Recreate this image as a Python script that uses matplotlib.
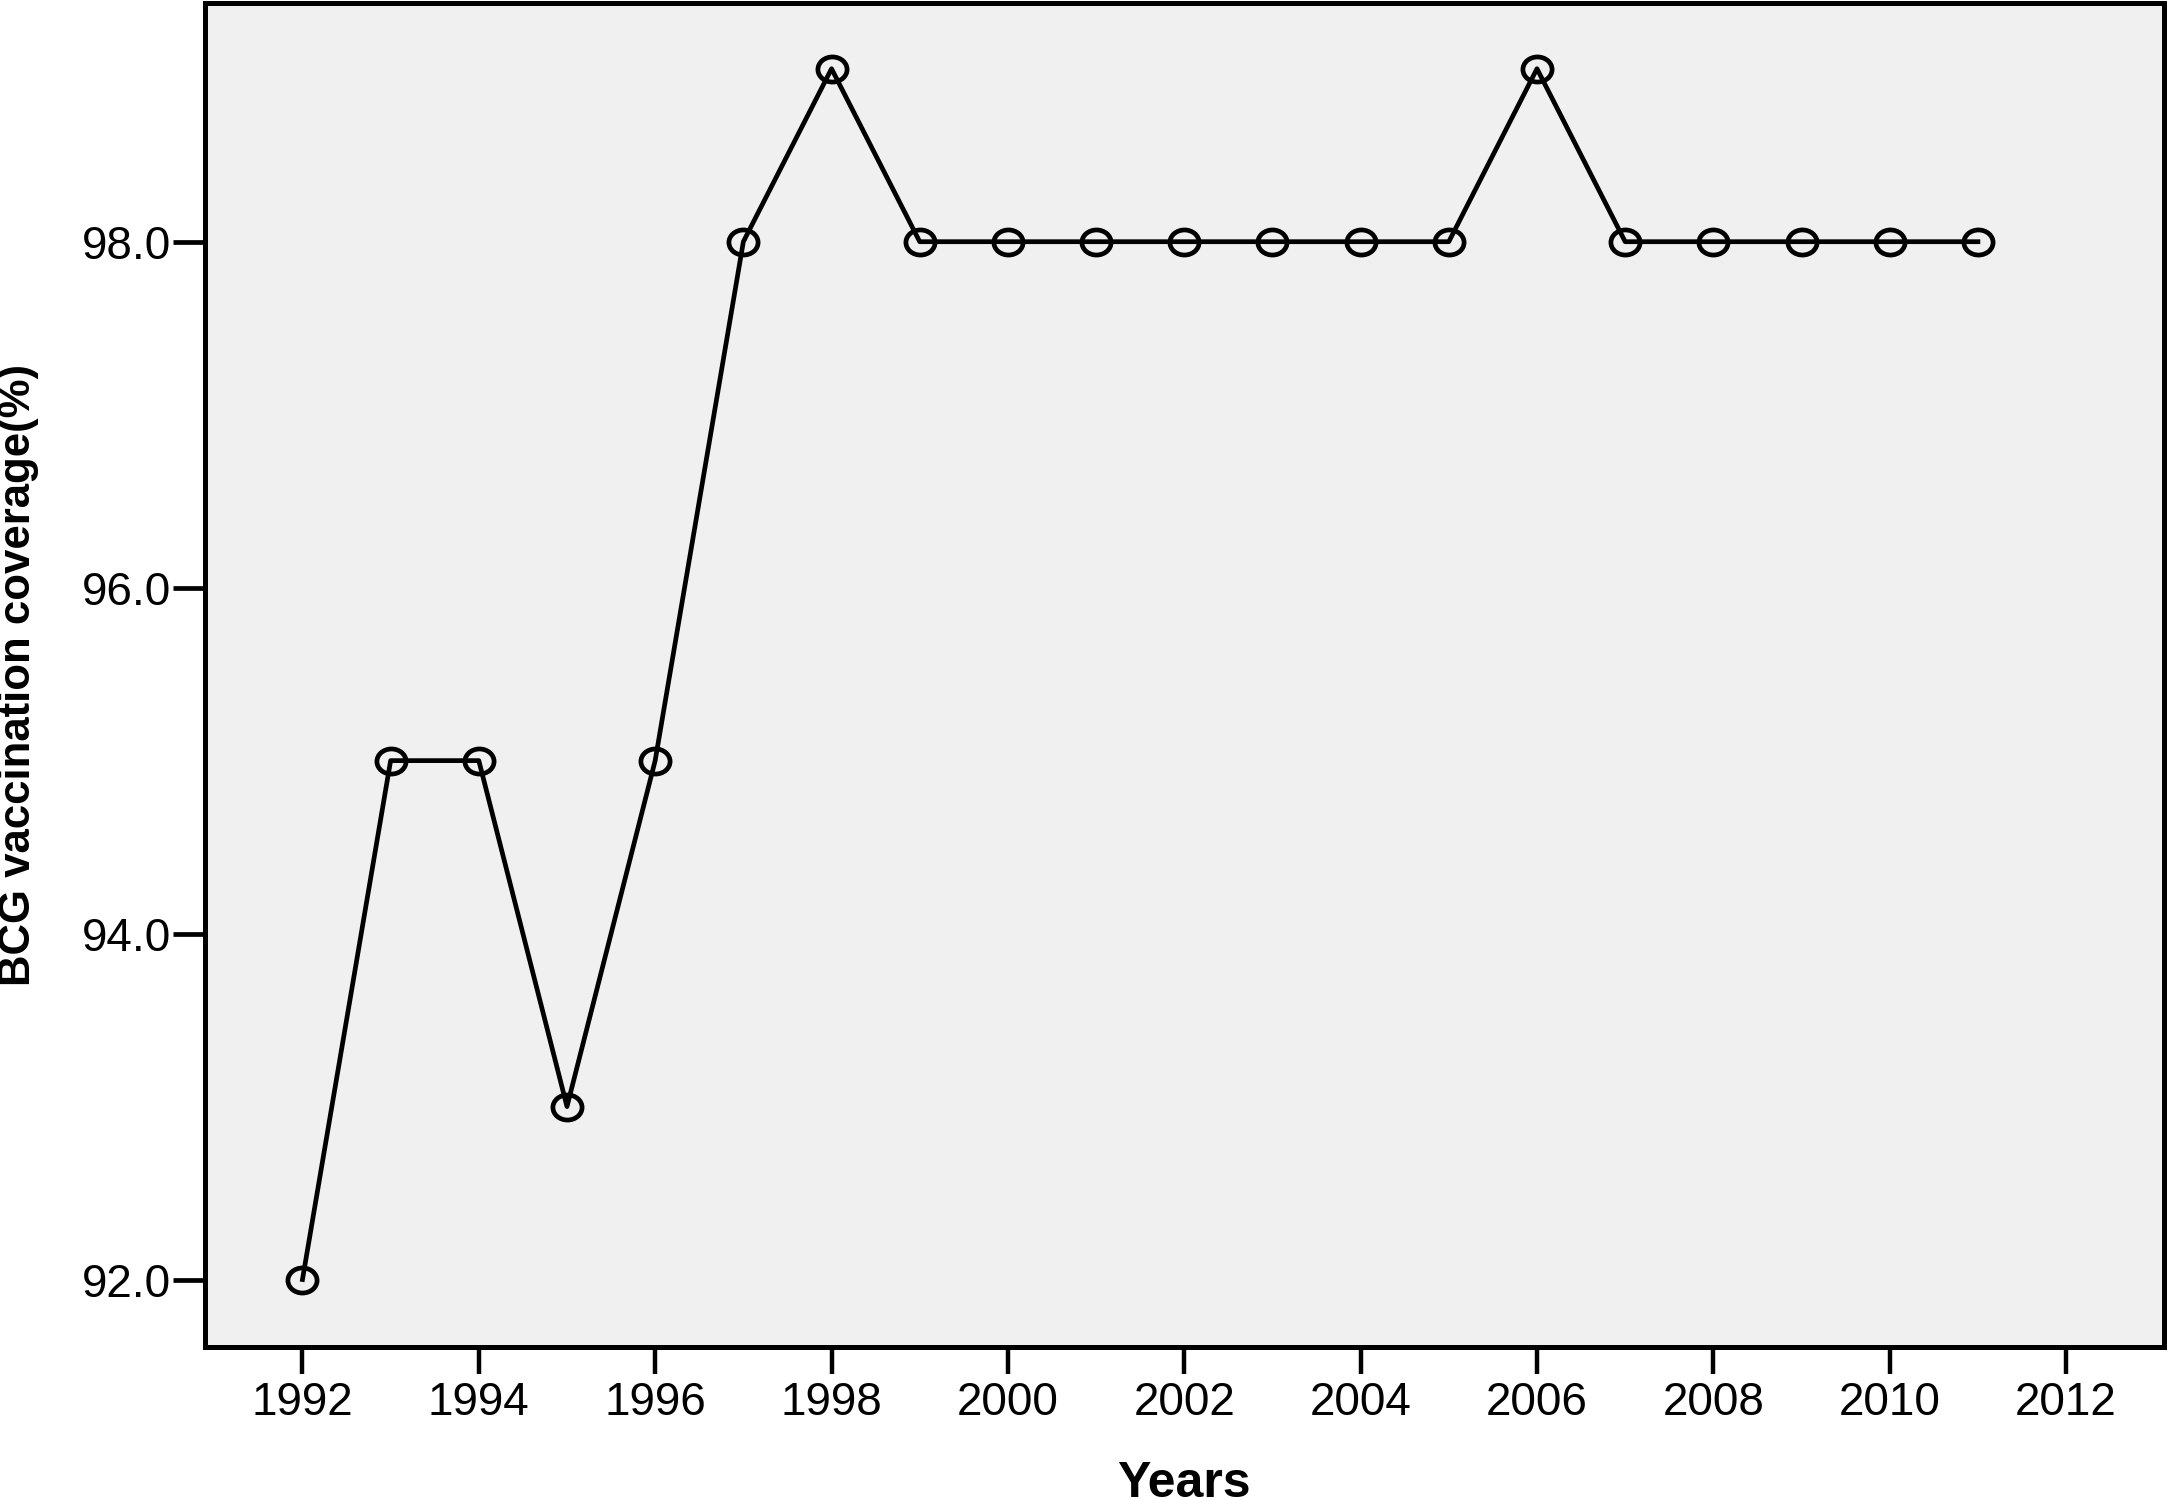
import matplotlib
matplotlib.use("Agg")
import matplotlib.pyplot as plt
from matplotlib.path import Path
from matplotlib.transforms import Affine2D
from matplotlib.ticker import FormatStrFormatter

# BCG coverage per year (%)
years = [1992, 1993, 1994, 1995, 1996, 1997, 1998, 1999, 2000, 2001,
         2002, 2003, 2004, 2005, 2006, 2007, 2008, 2009, 2010, 2011]
coverage = [92, 95, 95, 93, 95, 98, 99, 98, 98, 98,
            98, 98, 98, 98, 99, 98, 98, 98, 98, 98]

x_ticks = list(range(1992, 2013, 2))
y_ticks = [92.0, 94.0, 96.0, 98.0]

plt.rcParams['font.family'] = ['Liberation Sans', 'DejaVu Sans']

fig = plt.figure(figsize=(21.67, 14.99), dpi=100)
ax = fig.add_axes([0.0944, 0.1014, 0.9042, 0.8966])
ax.set_facecolor('#f0f0f0')

# slightly wide open circle like the SPSS marker
ellipse = Path.unit_circle().transformed(Affine2D().scale(1.0, 0.86))

ax.plot(years, coverage, color='black', linewidth=3.4,
        marker=ellipse, markersize=21, markerfacecolor='none',
        markeredgecolor='black', markeredgewidth=3.4)

ax.set_xlim(1990.89, 2013.11)
ax.set_ylim(91.61, 99.38)
ax.set_xticks(x_ticks)
ax.set_yticks(y_ticks)
ax.yaxis.set_major_formatter(FormatStrFormatter('%.1f'))

for sp in ax.spines.values():
    sp.set_linewidth(3.6)
    sp.set_color('black')

ax.tick_params(axis='x', direction='out', length=19.5, width=3.2, pad=5, labelsize=33)
ax.tick_params(axis='y', direction='out', length=23, width=3.4, pad=1, labelsize=33)

ax.set_xlabel('Years', fontsize=36, fontweight='bold', labelpad=26)
ax.set_ylabel('BCG vaccination coverage(%)', fontsize=31.5, fontweight='bold')
ax.yaxis.set_label_coords(-0.0845, 0.5)

fig.savefig('out.png', dpi=100)
